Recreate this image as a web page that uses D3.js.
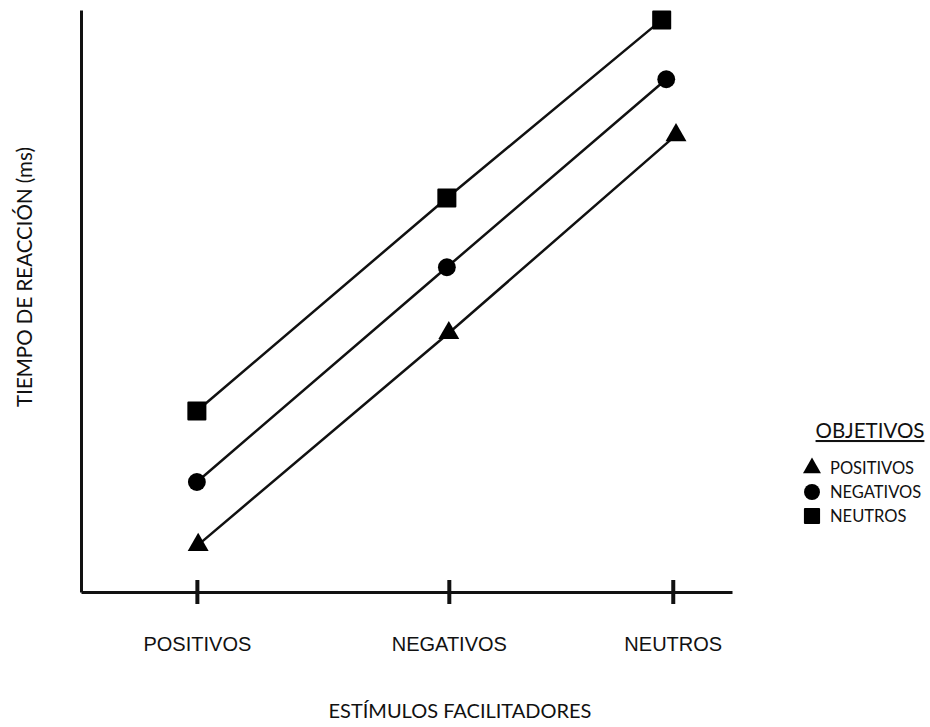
<!DOCTYPE html>
<html>
<head>
<meta charset="utf-8">
<script src="https://cdn.jsdelivr.net/npm/d3@7"></script>
<style>
  body { margin: 0; background: #fff; }
  svg { font-family: Lato, "Open Sans", sans-serif; }
</style>
</head>
<body>
<div id="graph"></div>
<script>
// chart values (arbitrary units, axes have no numbers)
const categories = ["POSITIVOS", "NEGATIVOS", "NEUTROS"];
const catX = [1.78, 5.65, 9.09];            // tick positions on the x axis
const seriesNames = ["POSITIVOS", "NEGATIVOS", "NEUTROS"];
const seriesSymbols = ["triangle", "circle", "square"];
const positivosX = [1.80, 5.65, 9.14];
const positivosY = [8.1, 44.5, 78.5];
const negativosX = [1.78, 5.62, 8.99];
const negativosY = [18.9, 55.8, 88.1];
const neutrosX = [1.78, 5.62, 8.92];
const neutrosY = [31.1, 67.7, 98.3];

const width = 930, height = 727;
const padding = {left: 81, right: 198, top: 10, bottom: 135};

let graph = d3.select("div#graph")
  .append("svg")
  .attr("width", width)
  .attr("height", height);

let xScale = d3.scaleLinear()
  .range([padding.left, width - padding.right])
  .domain([0, 10]);

let yScale = d3.scaleLinear()
  .range([height - padding.bottom, padding.top])
  .domain([0, 100]);

const symbolType = {triangle: d3.symbolTriangle, circle: d3.symbolCircle, square: d3.symbolSquare};

let series = [
  {name: seriesNames[0], sym: seriesSymbols[0], pts: positivosX.map((x, i) => ({x: x, y: positivosY[i]}))},
  {name: seriesNames[1], sym: seriesSymbols[1], pts: negativosX.map((x, i) => ({x: x, y: negativosY[i]}))},
  {name: seriesNames[2], sym: seriesSymbols[2], pts: neutrosX.map((x, i) => ({x: x, y: neutrosY[i]}))}
];

// axes
let xAxis = d3.axisBottom(xScale)
  .tickValues(catX)
  .tickFormat((d, i) => categories[i])
  .tickSizeInner(0)
  .tickSizeOuter(0)
  .tickPadding(45);

let gx = graph.append("g")
  .attr("class", "x axis")
  .attr("transform", `translate(0, ${yScale(0)})`)
  .call(xAxis);
gx.select(".domain").attr("stroke", "#111").attr("stroke-width", 3);
gx.selectAll(".tick text").attr("fill", "#111").style("font-size", "20px");
gx.selectAll(".tick").append("line")
  .attr("y1", -12).attr("y2", 12)
  .attr("stroke", "#111").attr("stroke-width", 4);

let yAxis = d3.axisLeft(yScale).tickValues([]).tickSizeOuter(0);
let gy = graph.append("g")
  .attr("class", "y axis")
  .attr("transform", `translate(${padding.left}, 0)`)
  .call(yAxis);
gy.select(".domain").attr("stroke", "#111").attr("stroke-width", 3);

// axis titles
graph.append("text")
  .attr("x", 460).attr("y", 718)
  .attr("text-anchor", "middle")
  .style("font-size", "20px").attr("fill", "#111")
  .text("ESTÍMULOS FACILITADORES");

graph.append("text")
  .attr("transform", "translate(32, 277) rotate(-90)")
  .attr("text-anchor", "middle")
  .style("font-size", "20.5px").attr("fill", "#111")
  .text("TIEMPO DE REACCIÓN (ms)");

// lines
let line = d3.line().x(d => xScale(d.x)).y(d => yScale(d.y));
graph.selectAll("path.series").data(series).enter()
  .append("path")
  .attr("class", "series")
  .attr("d", d => line(d.pts))
  .attr("fill", "none")
  .attr("stroke", "#111")
  .attr("stroke-width", 2.5);

// markers
series.forEach(s => {
  graph.selectAll(null).data(s.pts).enter()
    .append("path")
    .attr("transform", d => `translate(${xScale(d.x)}, ${yScale(d.y)})`)
    .attr("d", d3.symbol().type(symbolType[s.sym]).size(s.sym == "triangle" ? 190 : s.sym == "circle" ? 250 : 290))
    .attr("fill", "#000")
    .attr("stroke", "#000")
    .attr("stroke-linejoin", "round")
    .attr("stroke-width", s.sym == "square" ? 2 : 0);
});

// legend
let legend = graph.append("g").attr("transform", "translate(812, 0)");
legend.append("text")
  .attr("x", 58).attr("y", 438)
  .attr("text-anchor", "middle")
  .style("font-size", "20.5px")
  .style("text-decoration", "underline")
  .attr("fill", "#111")
  .text("OBJETIVOS");

let items = legend.selectAll("g.item").data(series).enter()
  .append("g")
  .attr("class", "item")
  .attr("transform", (d, i) => `translate(0, ${468 + i * 24})`);
items.append("path")
  .attr("d", d => d3.symbol().type(symbolType[d.sym]).size(d.sym == "triangle" ? 140 : d.sym == "circle" ? 200 : 200)())
  .attr("fill", "#000")
  .attr("stroke", "#000")
  .attr("stroke-linejoin", "round")
  .attr("stroke-width", d => d.sym == "square" ? 2 : 0);
items.append("text")
  .attr("x", 18).attr("y", 6)
  .style("font-size", "16.5px")
  .attr("fill", "#111")
  .text(d => d.name);
</script>
</body>
</html>
